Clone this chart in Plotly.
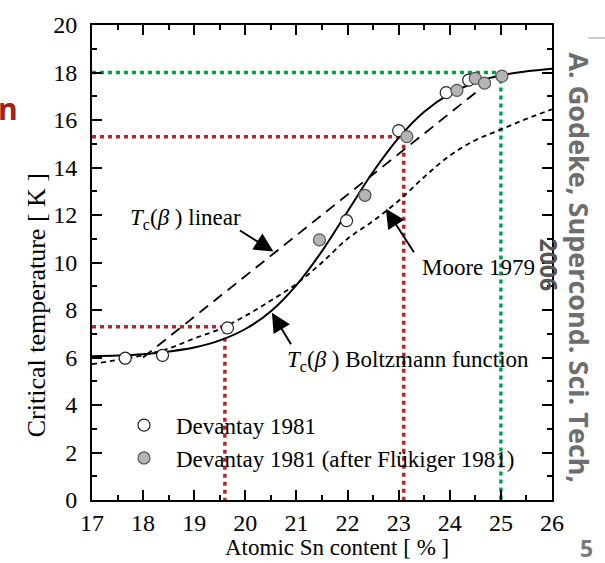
import plotly.graph_objects as go

# ---- data ----
sn_grid = [17, 17.5, 18, 18.5, 19, 19.5, 20, 20.5, 21, 21.5, 22, 22.5, 23, 23.5, 24, 24.5, 25, 25.5, 26]
boltzmann_T = [6.05, 6.08, 6.14, 6.25, 6.42, 6.72, 7.2, 7.95, 9.05, 10.48, 12.15, 13.82, 15.25, 16.35, 17.1, 17.58, 17.88, 18.05, 18.16]
moore_T = [5.72, 5.9, 6.1, 6.38, 6.8, 7.2, 7.75, 8.4, 9.1, 10.0, 11.0, 11.75, 12.6, 13.6, 14.5, 15.15, 15.6, 16.05, 16.45]
linear_x = [18, 25]
linear_T = [6.0, 18.0]

devantay_x = [17.65, 18.38, 19.65, 21.98, 23.0, 23.93, 24.37]
devantay_T = [5.97, 6.09, 7.25, 11.76, 15.55, 17.15, 17.68]
flukiger_x = [21.45, 22.34, 23.16, 24.14, 24.5, 24.68, 25.02]
flukiger_T = [10.95, 12.83, 15.3, 17.25, 17.75, 17.55, 17.85]

red_guides = [(19.6, 7.3), (23.1, 15.3)]
green_guides = [(25.0, 18.0)]

x_ticks = list(range(17, 27))
y_ticks = list(range(0, 21, 2))

SERIF = "Liberation Serif"
SANS = "Open Sans"
RED = "#B3262B"
GREEN = "#00A14B"

fig = go.Figure()

# guide lines
for gx, gy in red_guides:
    fig.add_trace(go.Scatter(x=[17, gx, gx], y=[gy, gy, 0], mode="lines",
                             line=dict(color=RED, width=3.5, dash="4px,4px"),
                             showlegend=False, hoverinfo="skip"))
for gx, gy in green_guides:
    fig.add_trace(go.Scatter(x=[17, gx, gx], y=[gy, gy, 0], mode="lines",
                             line=dict(color=GREEN, width=3.5, dash="4px,4px"),
                             showlegend=False, hoverinfo="skip"))

# curves
fig.add_trace(go.Scatter(x=linear_x, y=linear_T, mode="lines",
                         line=dict(color="black", width=1.8, dash="11px,7px"),
                         showlegend=False))
fig.add_trace(go.Scatter(x=sn_grid, y=moore_T, mode="lines", line_shape="spline",
                         line=dict(color="black", width=1.8, dash="5px,4px"),
                         showlegend=False))
fig.add_trace(go.Scatter(x=sn_grid, y=boltzmann_T, mode="lines", line_shape="spline",
                         line=dict(color="black", width=2),
                         showlegend=False))

# data points
fig.add_trace(go.Scatter(x=devantay_x, y=devantay_T, mode="markers", name="Devantay 1981",
                         legendgroup="a",
                         marker=dict(symbol="circle", size=12, color="white",
                                     line=dict(color="#222222", width=1.2))))
fig.add_trace(go.Scatter(x=flukiger_x, y=flukiger_T, mode="markers",
                         name="Devantay 1981 (after Flükiger 1981)", legendgroup="b",
                         marker=dict(symbol="circle", size=12, color="#B4B4B4",
                                     line=dict(color="#555555", width=1.2))))

axis_common = dict(
    showgrid=False, zeroline=False, showline=True, linecolor="black", linewidth=2,
    mirror="ticks", ticks="inside", ticklen=10, tickwidth=1.8, tickcolor="black",
)
fig.update_xaxes(range=[17, 26], tickvals=x_ticks,
                 tickfont=dict(family=SERIF, size=24, color="black"),
                 minor=dict(dtick=0.5, ticklen=5, tickwidth=1.5, ticks="inside", tickcolor="black"),
                 **axis_common)
fig.update_yaxes(range=[0, 20], tickvals=y_ticks,
                 tickfont=dict(family=SERIF, size=24, color="black"),
                 ticklabelstandoff=8,
                 minor=dict(dtick=1, ticklen=5, tickwidth=1.5, ticks="inside", tickcolor="black"),
                 **axis_common)


def px_to_paper(px, py):
    return (px - 92) / 460, (500 - py) / 478


def paper_text(text, px, py, font, angle=0):
    x0, y0 = px_to_paper(px, py)
    return dict(text=text, x=x0, y=y0, xref="paper", yref="paper", xanchor="center",
                yanchor="middle", textangle=angle, showarrow=False, font=font)


ann = []
# axis titles
ann.append(paper_text("Critical temperature [ K ]", 36, 304, dict(family=SERIF, size=26, color="black"), -90))
ann.append(paper_text("Atomic Sn content [ % ]", 337, 548, dict(family=SERIF, size=23, color="black")))
# curve labels
lab_font = dict(family=SERIF, size=23, color="black")
ann.append(dict(text="<i>T</i><sub>c</sub>(<i>β</i> ) linear", x=17.7, y=11.84, xanchor="left",
                yanchor="middle", showarrow=False, font=lab_font))
ann.append(dict(text="Moore 1979", x=23.42, y=9.79, xanchor="left", yanchor="middle",
                showarrow=False, font=lab_font))
ann.append(dict(text="<i>T</i><sub>c</sub>(<i>β</i> ) Boltzmann function", x=20.78, y=5.86,
                xanchor="left", yanchor="middle", showarrow=False, font=lab_font))
# arrows
for (tx, ty, axp, ayp) in [(20.55, 10.46, -35, -22), (22.75, 12.26, 29, 45), (20.52, 7.88, 20, 33)]:
    ann.append(dict(text="", x=tx, y=ty, ax=axp, ay=ayp, showarrow=True, arrowhead=2,
                    arrowsize=1.9, arrowwidth=2, arrowcolor="black"))
# outside texts
ann.append(paper_text("<b>n</b>", 8, 106, dict(family=SANS, size=30, color="#A8201A")))
ann.append(paper_text("<b>A. Godeke, Supercond. Sci. Tech,</b>", 580, 266,
                      dict(family=SANS, size=27, color="#6E6E6E"), 90))
ann.append(paper_text("<b>2006</b>", 549, 263, dict(family=SANS, size=23, color="#555555"), 90))
ann.append(paper_text("<b>5</b>", 586, 548, dict(family=SANS, size=23, color="#7A7A7A")))
fig.update_layout(annotations=ann)

fig.add_shape(type="line", xref="paper", yref="paper",
              x0=(588 - 92) / 460, x1=(605 - 92) / 460, y0=(500 - 35) / 478, y1=(500 - 35) / 478,
              line=dict(color="#BBBBBB", width=1.5))

fig.update_layout(
    width=605, height=563,
    margin=dict(l=92, r=53, t=22, b=63),
    plot_bgcolor="white", paper_bgcolor="white",
    font=dict(family=SERIF, color="black"),
    showlegend=True,
    legend=dict(x=(112 - 92) / 460, y=(500 - 403) / 478, xanchor="left", yanchor="top",
                bgcolor="rgba(0,0,0,0)", font=dict(family=SERIF, size=23, color="black"),
                itemwidth=54, traceorder="grouped", tracegroupgap=0),
)

fig.write_html("out.html")
